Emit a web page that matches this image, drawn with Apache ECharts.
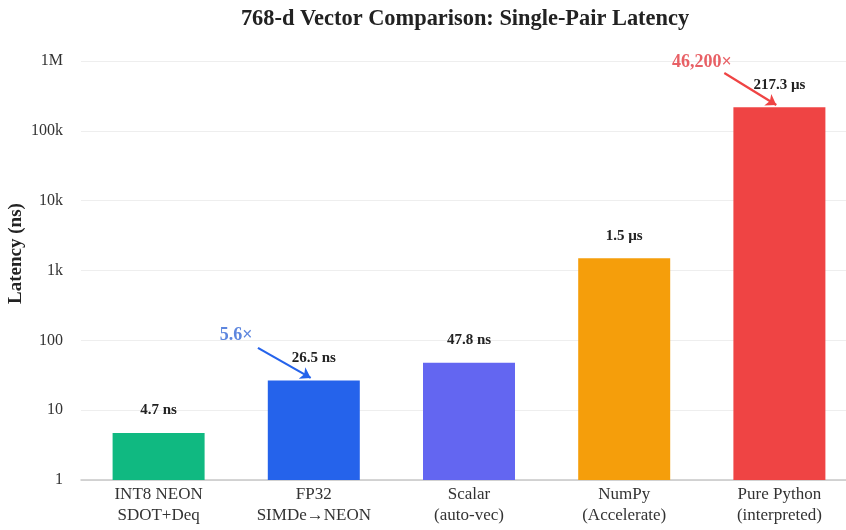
<!DOCTYPE html>
<html>
<head>
<meta charset="utf-8">
<script src="https://cdn.jsdelivr.net/npm/echarts@6/dist/echarts.min.js"></script>
<style>
  html, body { margin: 0; padding: 0; background: #fff; }
  #chart { width: 846px; height: 530px; }
</style>
</head>
<body>
<div id="chart"></div>
<script>
const categories = ['INT8 NEON\nSDOT+Deq', 'FP32\nSIMDe\u2192NEON', 'Scalar\n(auto-vec)', 'NumPy\n(Accelerate)', 'Pure Python\n(interpreted)'];
const latencyNs = [4.7, 26.5, 47.8, 1500, 217300];
const valueLabels = ['4.7 ns', '26.5 ns', '47.8 ns', '1.5 \u00b5s', '217.3 \u00b5s'];
const barColors = ['#10b981', '#2563eb', '#6366f1', '#f59e0b', '#ef4444'];
const tickLabels = { 1: '1', 10: '10', 100: '100', 1000: '1k', 10000: '10k', 100000: '100k', 1000000: '1M' };

// speedup annotations: text position and arrow (x in category units, y in ns)
const annotTexts = [
  { text: '5.6\u00d7', x: 0.5, y: 119, color: '#3468d6' },
  { text: '46,200\u00d7', x: 3.5, y: 960000, color: '#e2383e' }
];
const annotArrows = [
  { from: [0.64, 78], to: [0.98, 29], color: '#2563eb' },
  { from: [3.645, 674000], to: [3.98, 234000], color: '#ef4444' }
];

const serif = '"Liberation Serif", "Times New Roman", serif';

let myChart = echarts.init(document.getElementById('chart'));
let options = {
  animation: false,
  title: {
    text: '768-d Vector Comparison: Single-Pair Latency',
    left: 460,
    textAlign: 'center',
    top: 3,
    textStyle: { fontFamily: serif, fontSize: 22.4, fontWeight: 'bold', color: '#222' }
  },
  grid: { left: 81, top: 61, right: -11, bottom: 50, containLabel: false, outerBoundsMode: 'none' },
  xAxis: [
    {
      type: 'category',
      data: categories,
      axisLine: { lineStyle: { color: '#c8c8c8', width: 1.5 } },
      axisTick: { show: false },
      axisLabel: { fontFamily: serif, fontSize: 17, color: '#333', lineHeight: 21, margin: 4, interval: 0 }
    },
    {
      type: 'value',
      min: -0.5,
      max: 4.5,
      show: false
    }
  ],
  yAxis: {
    type: 'log',
    logBase: 10,
    min: 1,
    max: 1000000,
    name: 'Latency (ns)',
    nameLocation: 'middle',
    nameGap: 55,
    nameMoveOverlap: false,
    nameTextStyle: { fontFamily: serif, fontSize: 19, fontWeight: 'bold', color: '#222', padding: [0, 0, 0, 34] },
    axisLine: { show: false },
    axisTick: { show: false },
    axisLabel: {
      fontFamily: serif, fontSize: 16, color: '#333', margin: 18,
      formatter: function (v) { return tickLabels[Math.round(v)] || ''; }
    },
    splitLine: { lineStyle: { color: '#eeeeee' } }
  },
  series: [
    {
      type: 'bar',
      barWidth: 92,
      data: latencyNs.map(function (v, i) {
        return { value: v, itemStyle: { color: barColors[i] } };
      }),
      label: {
        show: true,
        position: 'top',
        distance: 15,
        fontFamily: serif,
        fontSize: 15,
        fontWeight: 'bold',
        color: '#222',
        formatter: function (p) { return valueLabels[p.dataIndex]; }
      }
    },
    {
      type: 'lines',
      coordinateSystem: 'cartesian2d',
      xAxisIndex: 1,
      yAxisIndex: 0,
      symbol: ['none', 'arrow'],
      symbolSize: 10,
      z: 5,
      data: annotArrows.map(function (a) {
        return { coords: [a.from, a.to], lineStyle: { color: a.color, width: 2.2, opacity: 1 } };
      })
    },
    {
      type: 'scatter',
      xAxisIndex: 1,
      yAxisIndex: 0,
      symbolSize: 0,
      silent: true,
      data: annotTexts.map(function (t) {
        return {
          value: [t.x, t.y],
          label: {
            show: true,
            position: 'inside',
            formatter: t.text,
            fontFamily: serif,
            fontSize: 18,
            fontWeight: 'bold',
            color: t.color
          }
        };
      })
    }
  ]
};
myChart.setOption(options);
</script>
</body>
</html>
